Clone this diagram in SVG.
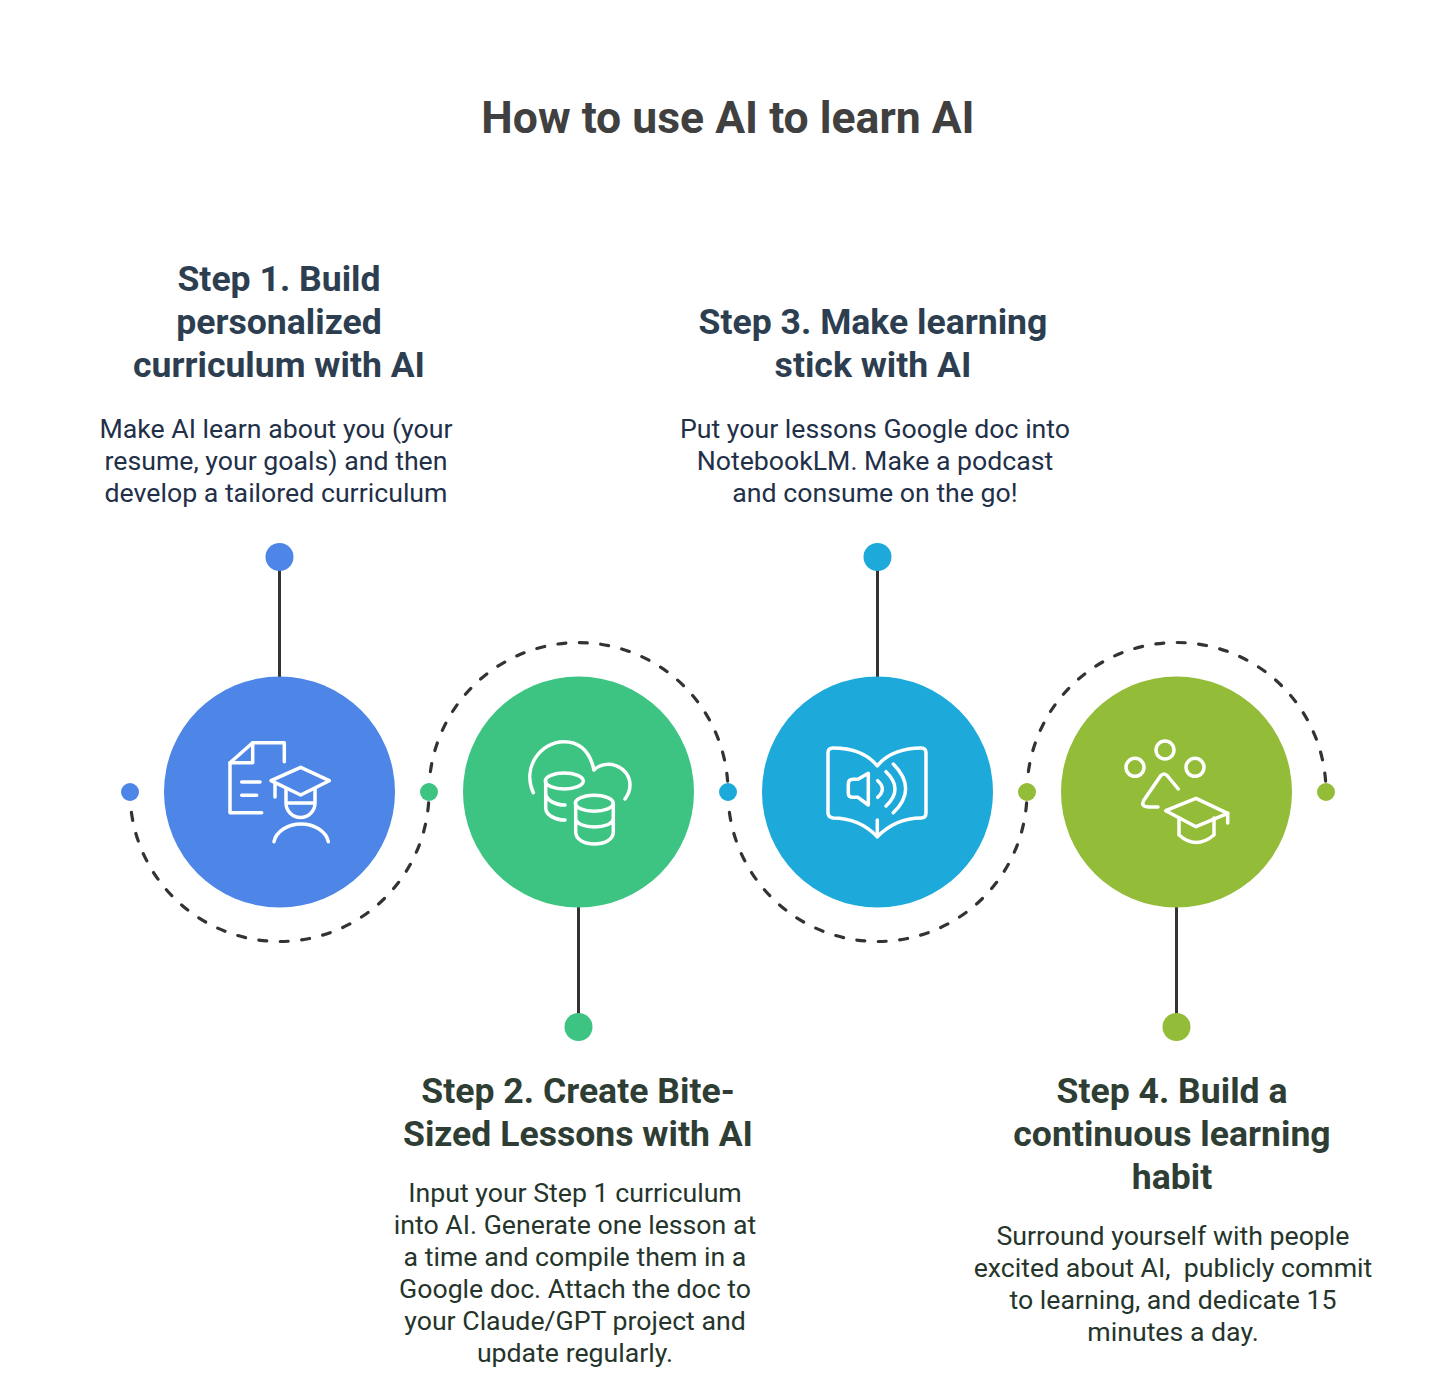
<svg xmlns="http://www.w3.org/2000/svg" width="1456" height="1392" viewBox="0 0 1456 1392">
<style>
text{font-family:Roboto,"Liberation Sans",sans-serif;text-anchor:middle}
.title{font-size:44.500px;font-weight:700;fill:#404040}
.h1{font-size:35.600px;font-weight:700;fill:#2c3e50}
.h2{font-size:35.600px;font-weight:700;fill:#2f3e34}
.b1{font-size:26.700px;fill:#1f3048}
.b2{font-size:26.700px;fill:#25352b}
.pin{stroke:#333;stroke-width:3;fill:none}
.arc{stroke:#333;stroke-width:3.200;fill:none;stroke-dasharray:8 13.500;stroke-dashoffset:1;stroke-linecap:round}
.ic{fill:none;stroke:#fff;stroke-width:3.500;stroke-linecap:round;stroke-linejoin:round}
</style>
<rect width="1456" height="1392" fill="#fff"/>
<text class="title" x="728" y="133">How to use AI to learn AI</text>
<g id="connectors">
<path class="arc" d="M130,792 A149.500,149.500 0 0 0 429,792"/>
<path class="arc" d="M429,792 A149.500,149.500 0 0 1 728,792"/>
<path class="arc" d="M728,792 A149.500,149.500 0 0 0 1027,792"/>
<path class="arc" d="M1027,792 A149.500,149.500 0 0 1 1326,792"/>
<path class="pin" d="M279.500,557V677M578.500,907V1027M877.500,557V677M1176.500,907V1027"/>
</g>
<g id="step1">
<circle cx="130" cy="792" r="9" fill="#4e86e8"/>
<circle cx="279.500" cy="557" r="14" fill="#4e86e8"/>
<circle cx="279.500" cy="792" r="115.500" fill="#4e86e8"/>
<g class="ic">
<path d="M284.300,761.700V742.700H252.700L230,762.700V812.700H261.700"/>
<path d="M252.700,742.700V762.700H230"/>
<path d="M241.700,782H260M241.700,795.300H256.700"/>
<path d="M271,780.700L300.700,767.300L329.300,780.700L300.700,795Z"/>
<path d="M275,783V797"/>
<path d="M286,789V803A14.500,14.500 0 0 0 315,803V789M286,803H315"/>
<path d="M274,841.700A27.500,21 0 0 1 328.300,841.700"/>
</g>
<text class="h1" x="279" y="291">Step 1. Build</text>
<text class="h1" x="279" y="334">personalized</text>
<text class="h1" x="279" y="377">curriculum with AI</text>
<text class="b1" x="276" y="438">Make AI learn about you (your</text>
<text class="b1" x="276" y="470">resume, your goals) and then</text>
<text class="b1" x="276" y="502">develop a tailored curriculum</text>
</g>
<g id="step2">
<circle cx="429" cy="792" r="9" fill="#3ec482"/>
<circle cx="578.500" cy="1027" r="14" fill="#3ec482"/>
<circle cx="578.500" cy="792" r="115.500" fill="#3ec482"/>
<g class="ic">
<path d="M533.300,792.700C522,768 540,741.700 564,741.700C580,741.700 590,752 594,770C606,758 630,766 630,785C630,790 628,795 625,799"/>
<ellipse cx="564.300" cy="781" rx="19" ry="8"/>
<path d="M545.700,781V808C545.700,815 555,820 565,820M545.700,793C545.700,800 555,805 565,805"/>
<ellipse cx="594.300" cy="803.300" rx="19" ry="8"/>
<path d="M575.700,803.300V832C575.700,848 613.300,848 613.300,832V803.300M575.700,818C575.700,830 613.300,830 613.300,818"/>
</g>
<text class="h2" x="578" y="1103">Step 2. Create Bite-</text>
<text class="h2" x="578" y="1146">Sized Lessons with AI</text>
<text class="b2" x="575" y="1202">Input your Step 1 curriculum</text>
<text class="b2" x="575" y="1234">into AI. Generate one lesson at</text>
<text class="b2" x="575" y="1266">a time and compile them in a</text>
<text class="b2" x="575" y="1298">Google doc. Attach the doc to</text>
<text class="b2" x="575" y="1330">your Claude/GPT project and</text>
<text class="b2" x="575" y="1362">update regularly.</text>
</g>
<g id="step3">
<circle cx="728" cy="792" r="9" fill="#1da9da"/>
<circle cx="877.500" cy="557" r="14" fill="#1da9da"/>
<circle cx="877.500" cy="792" r="115.500" fill="#1da9da"/>
<g class="ic">
<path d="M828,753Q828,748 833,748C850,748 867,753 877.300,766C887,753 905,748 921,748Q926,748 926,753V813Q926,818 921,818C905,818 890,824 877.300,836.700C865,824 850,818 833,818Q828,817 828,813Z"/>
<path d="M877.300,820V836.700"/>
<path d="M868.300,773.300L858,779.300H853Q848.300,779.300 848.300,784V793Q848.300,797.300 853,797.300H858L868.300,805Z"/>
<path d="M877.700,780.700Q887,789 877.700,797.300"/>
<path d="M886,771.700Q904,789 886,806"/>
<path d="M893.300,764Q918,789 893.300,812.700"/>
</g>
<text class="h1" x="873" y="334">Step 3. Make learning</text>
<text class="h1" x="873" y="377">stick with AI</text>
<text class="b1" x="875" y="438">Put your lessons Google doc into</text>
<text class="b1" x="875" y="470">NotebookLM. Make a podcast</text>
<text class="b1" x="875" y="502">and consume on the go!</text>
</g>
<g id="step4">
<circle cx="1027" cy="792" r="9" fill="#93bd39"/>
<circle cx="1326" cy="792" r="9" fill="#93bd39"/>
<circle cx="1176.500" cy="1027" r="14" fill="#93bd39"/>
<circle cx="1176.500" cy="792" r="115.500" fill="#93bd39"/>
<g class="ic">
<circle cx="1165" cy="750" r="9"/>
<circle cx="1135" cy="767.300" r="9"/>
<circle cx="1195" cy="767.300" r="9"/>
<path d="M1178.300,789L1167.500,776Q1164,772 1160.500,776L1144,800Q1140,807 1149,807H1158"/>
<path d="M1165.700,810.700L1196,798.300L1227.700,813.300L1196,826.700Z"/>
<path d="M1227.700,813V823"/>
<path d="M1179,818V835Q1196,850 1214,835V818"/>
</g>
<text class="h2" x="1172" y="1103">Step 4. Build a</text>
<text class="h2" x="1172" y="1146">continuous learning</text>
<text class="h2" x="1172" y="1189">habit</text>
<text class="b2" x="1173" y="1245">Surround yourself with people</text>
<text class="b2" x="1173" y="1277" xml:space="preserve">excited about AI,  publicly commit</text>
<text class="b2" x="1173" y="1309">to learning, and dedicate 15</text>
<text class="b2" x="1173" y="1341">minutes a day.</text>
</g>
</svg>
